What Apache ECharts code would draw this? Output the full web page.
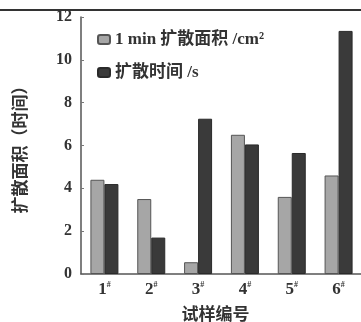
<!DOCTYPE html>
<html><head><meta charset="utf-8">
<script src="https://cdn.jsdelivr.net/npm/echarts@6/dist/echarts.min.js"></script>
<style>html,body{margin:0;padding:0;background:#fff;}#c{width:361px;height:322px;}</style>
</head><body><div id="c"></div>
<script>
const categories = ['1', '2', '3', '4', '5', '6'];
const areaValues = [4.4, 3.5, 0.55, 6.5, 3.6, 4.6];
const timeValues = [4.2, 1.7, 7.25, 6.05, 5.65, 11.35];
const seriesNames = ['1 min 扩散面积 /cm²', '扩散时间 /s'];
const yName = '扩散面积（时间）';
const xName = '试样编号';

const FF = "'Liberation Serif', 'Noto Sans CJK SC', serif";
const chart = echarts.init(document.getElementById('c'), null, {renderer: 'canvas'});
chart.setOption({
  backgroundColor: '#fff',
  animation: false,
  grid: {left: 81, top: 17, width: 281, height: 257, containLabel: false, outerBoundsMode: 'none'},
  legend: {
    left: 92, top: 26, orient: 'vertical', itemWidth: 12, itemHeight: 9, itemGap: 16,
    textStyle: {fontFamily: FF, fontSize: 17, fontWeight: 'bold', color: '#333'},
    data: seriesNames
  },
  xAxis: {
    type: 'category', data: categories,
    name: xName, nameLocation: 'middle', nameGap: 33,
    nameTextStyle: {fontFamily: FF, fontSize: 17, fontWeight: 'bold', color: '#333', padding: [0, 12, 0, 0]},
    axisLine: {lineStyle: {color: '#555', width: 1.5}},
    axisTick: {inside: true, length: 3, lineStyle: {color: '#777'}},
    axisLabel: {
      interval: 0,
      margin: 7,
      formatter: v => '{a|' + v + '}{b|#}',
      rich: {
        a: {fontFamily: FF, fontSize: 17, fontWeight: 'bold', color: '#333', lineHeight: 18},
        b: {fontFamily: FF, fontSize: 8, fontWeight: 'bold', color: '#333', verticalAlign: 'top', lineHeight: 18}
      }
    }
  },
  yAxis: {
    type: 'value', min: 0, max: 12, interval: 2,
    name: yName, nameLocation: 'middle', nameRotate: 90, nameGap: 51,
    nameTextStyle: {fontFamily: FF, fontSize: 17, fontWeight: 'bold', color: '#333'},
    axisLine: {show: true, lineStyle: {color: '#555', width: 1.5}},
    axisTick: {show: true, inside: true, length: 3, lineStyle: {color: '#777'}},
    splitLine: {show: false},
    axisLabel: {margin: 9, fontFamily: FF, fontSize: 16, fontWeight: 'bold', color: '#333'}
  },
  series: [
    {name: seriesNames[0], type: 'bar', data: areaValues, barWidth: 14, barGap: '0%',
     itemStyle: {color: '#a6a6a6', borderColor: '#555', borderWidth: 1}},
    {name: seriesNames[1], type: 'bar', data: timeValues, barWidth: 14,
     itemStyle: {color: '#3a3a3a', borderColor: '#2a2a2a', borderWidth: 1}}
  ],
  graphic: [
    {type: 'line', shape: {x1: 0, y1: 10, x2: 361, y2: 10}, style: {stroke: '#333', lineWidth: 2}}
  ]
});
</script></body></html>
